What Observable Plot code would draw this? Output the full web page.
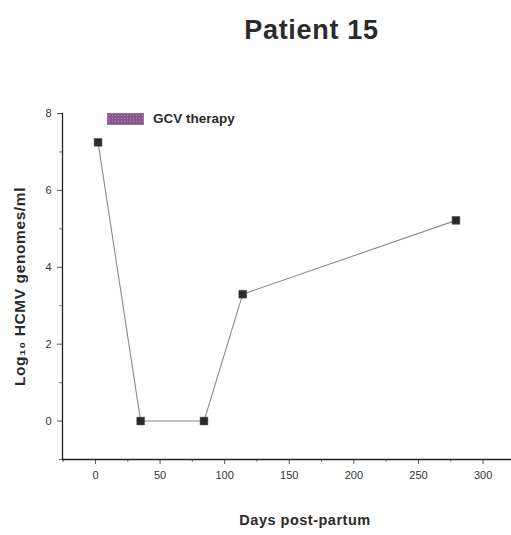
<!DOCTYPE html>
<html><head><meta charset="utf-8">
<script src="https://cdn.jsdelivr.net/npm/d3@7"></script>
<script src="https://cdn.jsdelivr.net/npm/@observablehq/plot@0.6"></script>
<style>
body{margin:0;background:#fff;font-family:"Liberation Sans",Arial,sans-serif;}
#wrap{position:relative;width:511px;height:535px;}
#title{position:absolute;left:0;top:15px;width:511px;padding-left:112px;box-sizing:border-box;text-align:center;font:bold 27px "Liberation Sans",Arial,sans-serif;letter-spacing:0.7px;color:#2a2a2a;}
#legend{position:absolute;left:107px;top:111px;display:flex;align-items:center;font:bold 13.5px "Liberation Sans",Arial,sans-serif;color:#2a2a2a;}
#legend .sw{width:37px;height:12px;margin-right:9px;background-color:#8a5490;background-image:radial-gradient(#b48ab8 0.8px,transparent 1px);background-size:3px 3px;border:1px solid #8a7a8a;box-sizing:border-box;}
#chart{position:absolute;left:0;top:60px;}
</style></head>
<body>
<div id="wrap">
<div id="title">Patient 15</div>
<div id="chart"></div>
<div id="legend"><div class="sw"></div><span>GCV therapy</span></div>
</div>
<script>
const days = [2, 35, 84, 114, 279];
const log10Load = [7.25, 0, 0, 3.3, 5.22];
const xTicks = [0, 50, 100, 150, 200, 250, 300];
const xMinorTicks = [-25, 25, 75, 125, 175, 225, 275];
const yTicks = [0, 2, 4, 6, 8];
const yMinorTicks = [-1, 1, 3, 5, 7];
const xTitle = "Days post-partum";
const yTitle = "Log₁₀ HCMV genomes/ml";

const data = days.map((d, i) => ({day: d, v: log10Load[i]}));
const tickFont = '"Liberation Sans Narrow","Liberation Sans",Arial,sans-serif';
const titleFont = '"Liberation Sans",Arial,sans-serif';

const plot = Plot.plot({
  width: 511,
  height: 475,
  marginLeft: 62,
  marginRight: 0,
  marginTop: 53,
  marginBottom: 76,
  style: {fontFamily: tickFont, fontSize: "11px", color: "#333", background: "#fff"},
  x: {domain: [-25.5, 322], label: null},
  y: {domain: [-1, 8], label: null},
  marks: [
    Plot.axisX({ticks: xTicks, tickSize: 5, tickPadding: 7, label: null, stroke: "#555"}),
    Plot.axisX({ticks: xMinorTicks, tickSize: 3, tickFormat: () => "", label: null, stroke: "#777"}),
    Plot.axisY({ticks: yTicks, tickSize: 5, tickPadding: 6, label: null, stroke: "#555"}),
    Plot.axisY({ticks: yMinorTicks, tickSize: 3, tickFormat: () => "", label: null, stroke: "#777"}),
    Plot.frame({anchor: "left", stroke: "#222", strokeWidth: 1.3}),
    Plot.frame({anchor: "bottom", stroke: "#222", strokeWidth: 1.3}),
    Plot.line(data, {x: "day", y: "v", stroke: "#8a8a8a", strokeWidth: 1.1}),
    Plot.dot(data, {x: "day", y: "v", symbol: "square", r: 4.4, fill: "#2b2b2b", stroke: "#444", strokeWidth: 0.5}),
    Plot.text([xTitle], {text: d => d, frameAnchor: "bottom", textAnchor: "middle", dx: 18, dy: 65, fontWeight: "bold", fontSize: 14.5, fontFamily: titleFont, fill: "#2a2a2a"}),
    Plot.text([yTitle], {text: d => d, frameAnchor: "left", textAnchor: "middle", rotate: -90, dx: -42, dy: 0, fontWeight: "bold", fontSize: 15.5, fontFamily: titleFont, fill: "#2a2a2a"})
  ]
});
plot.querySelectorAll("text").forEach(t => { if (t.textContent === xTitle) t.style.letterSpacing = "0.5px"; if (t.textContent === yTitle) t.style.letterSpacing = "0.6px"; });
document.getElementById("chart").appendChild(plot);
</script>
</body></html>
